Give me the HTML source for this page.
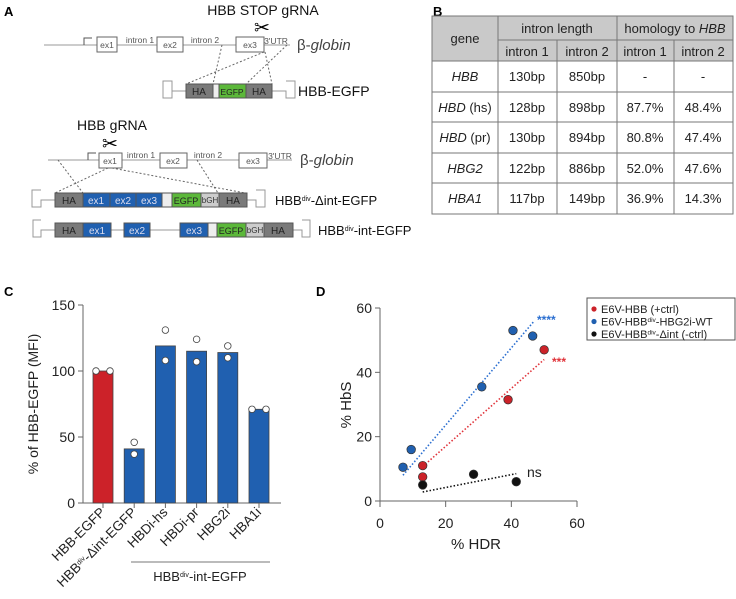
<!DOCTYPE html>
<html><head><meta charset="utf-8"><style>
body{margin:0;background:#fff;}
svg{display:block;font-family:"Liberation Sans","DejaVu Sans",sans-serif;}
.t{font-size:13px;fill:#222;}
.sm{font-size:8.5px;fill:#555;}
</style></head><body>
<svg id="fig" width="736" height="599" viewBox="0 0 736 599">
<text x="4" y="16" font-size="13" font-weight="bold">A</text>
<text x="433" y="16" font-size="13" font-weight="bold">B</text>
<text x="4" y="296" font-size="13" font-weight="bold">C</text>
<text x="316" y="296" font-size="13" font-weight="bold">D</text>

<g stroke-width="1">
 <text x="263" y="15" text-anchor="middle" font-size="14" fill="#111">HBB STOP gRNA</text>
 <text x="262" y="34" text-anchor="middle" font-size="19" font-weight="bold">✂</text>
 <line x1="44" y1="45" x2="290" y2="45" stroke="#999"/>
 <polyline points="84,45 84,38 92,38" fill="none" stroke="#555"/>
 <rect x="97" y="37" width="20" height="15" fill="#fff" stroke="#666"/><text x="107" y="48" text-anchor="middle" class="sm" font-size="9">ex1</text>
 <rect x="157" y="37" width="26" height="15" fill="#fff" stroke="#666"/><text x="170" y="48" text-anchor="middle" class="sm" font-size="9">ex2</text>
 <rect x="236" y="37" width="28" height="15" fill="#fff" stroke="#666"/><text x="250" y="48" text-anchor="middle" class="sm" font-size="9">ex3</text>
 <text x="140" y="43" text-anchor="middle" class="sm" font-size="9">intron 1</text>
 <text x="205" y="43" text-anchor="middle" class="sm" font-size="9">intron 2</text>
 <text x="276" y="44" text-anchor="middle" class="sm" font-size="6.5">3'UTR</text>
 <text x="297" y="50" font-size="15" fill="#444">β-<tspan font-style="italic">globin</tspan></text>
 <g stroke="#666" stroke-dasharray="2,2">
  <line x1="222" y1="45" x2="213" y2="84"/><line x1="264" y1="52" x2="186" y2="84"/>
  <line x1="287" y1="45" x2="246" y2="84"/><line x1="265" y1="52" x2="272" y2="84"/>
 </g>
 <polyline points="186,91 172,91 172,98 163,98 163,81 172,81 172,91" fill="none" stroke="#999"/>
 <polyline points="272,91 286,91 286,98 295,98 295,81 286,81" fill="none" stroke="#999"/>
 <rect x="186" y="84" width="27" height="14" fill="#7a7a7a" stroke="#555"/><text x="199" y="95" text-anchor="middle" font-size="10" fill="#222">HA</text>
 <rect x="213" y="84" width="6" height="14" fill="#eee" stroke="#555"/>
 <rect x="219" y="84" width="27" height="14" fill="#5cb83a" stroke="#555"/><text x="232" y="95" text-anchor="middle" font-size="8.5" fill="#222">EGFP</text>
 <rect x="246" y="84" width="26" height="14" fill="#7a7a7a" stroke="#555"/><text x="259" y="95" text-anchor="middle" font-size="10" fill="#222">HA</text>
 <text x="298" y="96" font-size="14" fill="#111">HBB-EGFP</text>

 <text x="112" y="130" text-anchor="middle" font-size="14" fill="#111">HBB gRNA</text>
 <text x="110" y="150" text-anchor="middle" font-size="19" font-weight="bold">✂</text>
 <line x1="48" y1="160" x2="292" y2="160" stroke="#999"/>
 <polyline points="88,160 88,153 96,153" fill="none" stroke="#555"/>
 <rect x="99" y="153" width="23" height="15" fill="#fff" stroke="#666"/><text x="110" y="164" text-anchor="middle" class="sm" font-size="9">ex1</text>
 <rect x="160" y="153" width="27" height="15" fill="#fff" stroke="#666"/><text x="173" y="164" text-anchor="middle" class="sm" font-size="9">ex2</text>
 <rect x="239" y="153" width="28" height="15" fill="#fff" stroke="#666"/><text x="253" y="164" text-anchor="middle" class="sm" font-size="9">ex3</text>
 <text x="141" y="158" text-anchor="middle" class="sm" font-size="9">intron 1</text>
 <text x="208" y="158" text-anchor="middle" class="sm" font-size="9">intron 2</text>
 <text x="280" y="159" text-anchor="middle" class="sm" font-size="6.5">3'UTR</text>
 <text x="300" y="165" font-size="15" fill="#444">β-<tspan font-style="italic">globin</tspan></text>
 <g stroke="#666" stroke-dasharray="2,2">
  <line x1="58" y1="160" x2="83" y2="193"/><line x1="108" y1="168" x2="55" y2="193"/>
  <line x1="112" y1="168" x2="245" y2="193"/><line x1="197" y1="160" x2="218" y2="193"/>
 </g>
 <polyline points="55,200 41,200 41,207 32,207 32,190 41,190" fill="none" stroke="#999"/>
 <polyline points="247,200 256,200 256,207 265,207 265,190 256,190" fill="none" stroke="#999"/>
 <rect x="55" y="193" width="28" height="14" fill="#7a7a7a" stroke="#555"/><text x="69" y="204" text-anchor="middle" font-size="10" fill="#222">HA</text>
 <rect x="83" y="193" width="27" height="14" fill="#2060b0" stroke="#555"/><text x="96" y="204" text-anchor="middle" font-size="10" fill="#dde">ex1</text>
 <rect x="110" y="193" width="26" height="14" fill="#2060b0" stroke="#555"/><text x="123" y="204" text-anchor="middle" font-size="10" fill="#dde">ex2</text>
 <rect x="136" y="193" width="26" height="14" fill="#2060b0" stroke="#555"/><text x="149" y="204" text-anchor="middle" font-size="10" fill="#dde">ex3</text>
 <rect x="162" y="193" width="10" height="14" fill="#eee" stroke="#555"/>
 <rect x="172" y="193" width="29" height="14" fill="#5cb83a" stroke="#555"/><text x="186" y="204" text-anchor="middle" font-size="9" fill="#222">EGFP</text>
 <rect x="201" y="193" width="18" height="14" fill="#ccc" stroke="#555"/><text x="210" y="203" text-anchor="middle" font-size="8" fill="#333">bGH</text>
 <rect x="219" y="193" width="28" height="14" fill="#7a7a7a" stroke="#555"/><text x="233" y="204" text-anchor="middle" font-size="10" fill="#222">HA</text>
 <text x="275" y="205" font-size="13" fill="#111">HBB<tspan font-size="7" dy="-4">div</tspan><tspan dy="4">-Δint-EGFP</tspan></text>

 <polyline points="55,230 41,230 41,237 33,237 33,220 41,220" fill="none" stroke="#999"/>
 <polyline points="293,230 302,230 302,237 310,237 310,220 302,220" fill="none" stroke="#999"/>
 <line x1="111" y1="230" x2="180" y2="230" stroke="#999"/>
 <rect x="55" y="223" width="28" height="14" fill="#7a7a7a" stroke="#555"/><text x="69" y="234" text-anchor="middle" font-size="10" fill="#222">HA</text>
 <rect x="83" y="223" width="28" height="14" fill="#2060b0" stroke="#555"/><text x="97" y="234" text-anchor="middle" font-size="10" fill="#dde">ex1</text>
 <rect x="124" y="223" width="26" height="14" fill="#2060b0" stroke="#555"/><text x="137" y="234" text-anchor="middle" font-size="10" fill="#dde">ex2</text>
 <rect x="180" y="223" width="28" height="14" fill="#2060b0" stroke="#555"/><text x="194" y="234" text-anchor="middle" font-size="10" fill="#dde">ex3</text>
 <rect x="208" y="223" width="9" height="14" fill="#eee" stroke="#555"/>
 <rect x="217" y="223" width="29" height="14" fill="#5cb83a" stroke="#555"/><text x="231" y="234" text-anchor="middle" font-size="9" fill="#222">EGFP</text>
 <rect x="246" y="223" width="18" height="14" fill="#ccc" stroke="#555"/><text x="255" y="233" text-anchor="middle" font-size="8" fill="#333">bGH</text>
 <rect x="264" y="223" width="29" height="14" fill="#7a7a7a" stroke="#555"/><text x="278" y="234" text-anchor="middle" font-size="10" fill="#222">HA</text>
 <text x="318" y="235" font-size="13" fill="#111">HBB<tspan font-size="7" dy="-4">div</tspan><tspan dy="4">-int-EGFP</tspan></text>
</g>

<g font-size="13" fill="#222">
 <rect x="432" y="16" width="301" height="45" fill="#c9c9c9"/>
 <rect x="432" y="16" width="301" height="198" fill="none" stroke="#777"/>
 <g stroke="#777">
  <line x1="498" y1="16" x2="498" y2="214"/><line x1="617" y1="16" x2="617" y2="214"/>
  <line x1="557" y1="40" x2="557" y2="214"/><line x1="674" y1="40" x2="674" y2="214"/>
  <line x1="498" y1="40" x2="733" y2="40"/>
  <line x1="432" y1="61" x2="733" y2="61"/><line x1="432" y1="92" x2="733" y2="92"/>
  <line x1="432" y1="122" x2="733" y2="122"/><line x1="432" y1="153" x2="733" y2="153"/>
  <line x1="432" y1="183" x2="733" y2="183"/>
 </g>
 <g text-anchor="middle">
  <text x="465" y="43">gene</text>
  <text x="557" y="33">intron length</text>
  <text x="675" y="33">homology to <tspan font-style="italic">HBB</tspan></text>
  <text x="527" y="56">intron 1</text><text x="587" y="56">intron 2</text>
  <text x="645" y="56">intron 1</text><text x="703" y="56">intron 2</text>
  <text x="465" y="81" font-style="italic">HBB</text><text x="527" y="81">130bp</text><text x="587" y="81">850bp</text><text x="645" y="81">-</text><text x="703" y="81">-</text>
  <text x="465" y="112"><tspan font-style="italic">HBD</tspan> (hs)</text><text x="527" y="112">128bp</text><text x="587" y="112">898bp</text><text x="645" y="112">87.7%</text><text x="703" y="112">48.4%</text>
  <text x="465" y="142"><tspan font-style="italic">HBD</tspan> (pr)</text><text x="527" y="142">130bp</text><text x="587" y="142">894bp</text><text x="645" y="142">80.8%</text><text x="703" y="142">47.4%</text>
  <text x="465" y="173" font-style="italic">HBG2</text><text x="527" y="173">122bp</text><text x="587" y="173">886bp</text><text x="645" y="173">52.0%</text><text x="703" y="173">47.6%</text>
  <text x="465" y="203" font-style="italic">HBA1</text><text x="527" y="203">117bp</text><text x="587" y="203">149bp</text><text x="645" y="203">36.9%</text><text x="703" y="203">14.3%</text>
 </g>
</g>

<g id="chartC"></g>
<g id="chartD"></g>
</svg>
<script>
const barCategories = ["HBB-EGFP","HBBdiv-Δint-EGFP","HBDi-hs","HBDi-pr","HBG2i","HBA1i"];
const barValues = [100,41,119,115,114,71];
const barPoint1 = [100,46,131,124,119,71];
const barPoint2 = [100,37,108,107,110,71];
const barYTicks = [0,50,100,150];

const redX = [13,13,39,50];
const redY = [11,7.5,31.5,47];
const blueX = [7,9.5,31,40.5,46.5];
const blueY = [10.5,16,35.5,53,51.3];
const blackX = [13,28.5,41.5];
const blackY = [5,8.3,6];
const scatterTicks = [0,20,40,60];
// trendline slope / intercept / x-range: [blue, red, black]
const trendSlope = [1.2, 0.9, 0.2];
const trendIntercept = [-0.4, -1.0, 0.2];
const trendXStart = [7, 13, 13];
const trendXEnd = [47, 50, 41.5];

const NS='http://www.w3.org/2000/svg';
function mk(parent,tag,attrs,text){const e=document.createElementNS(NS,tag);for(const k in attrs)e.setAttribute(k,attrs[k]);if(text!==undefined)e.textContent=text;parent.appendChild(e);return e;}

const gC=document.getElementById('chartC');
const cy=v=>503-(v/150)*198;
const cx=i=>103+i*31.2;
mk(gC,'line',{x1:83,y1:305,x2:83,y2:503,stroke:'#666'});
mk(gC,'line',{x1:83,y1:503,x2:281,y2:503,stroke:'#666'});
barYTicks.forEach(t=>{
 const tl=mk(gC,'line',{x1:78,y1:cy(t),x2:83,y2:cy(t),stroke:'#666'});
 
 
 const tx=mk(gC,'text',{x:75,y:cy(t)+5,'text-anchor':'end','font-size':14,fill:'#222'},t);
 
 
});
barValues.forEach((v,i)=>{
 const r=mk(gC,'rect',{x:cx(i)-10,y:cy(v),width:20,height:503-cy(v),fill:i===0?'#cc2229':'#2060b0',stroke:'#444','stroke-width':0.8});
 
 
 mk(gC,'line',{x1:cx(i),y1:503,x2:cx(i),y2:508,stroke:'#666'});
 [barPoint1[i],barPoint2[i]].forEach((p,j)=>{
  const off=(barPoint1[i]===barPoint2[i])?(j?7:-7):0;
  const c=mk(gC,'circle',{cx:cx(i)+off,cy:cy(p),r:3.3,fill:'#fff',stroke:'#444','stroke-width':0.8});
  
  
 });
 const lx=cx(i)+3, ly=513;
 const lab=mk(gC,'text',{x:lx,y:ly,'text-anchor':'end','font-size':13.5,fill:'#222',transform:`rotate(-45 ${lx} ${ly})`});
 
 
 const name=barCategories[i];
 if(name.indexOf('div')>0){
  mk(lab,'tspan',{},'HBB');mk(lab,'tspan',{'font-size':7,dy:-4},'div');mk(lab,'tspan',{dy:4},'-Δint-EGFP');
 } else lab.textContent=name;
});
mk(gC,'line',{x1:131,y1:562,x2:270,y2:562,stroke:'#777'});
const grp=mk(gC,'text',{x:200,y:581,'text-anchor':'middle','font-size':13,fill:'#222'});


mk(grp,'tspan',{},'HBB');mk(grp,'tspan',{'font-size':7,dy:-4},'div');mk(grp,'tspan',{dy:4},'-int-EGFP');
const ytC=mk(gC,'text',{x:38,y:404,'text-anchor':'middle','font-size':14,fill:'#222',transform:'rotate(-90 38 404)'},'% of HBB-EGFP (MFI)');



const gD=document.getElementById('chartD');
const dx=v=>380+v*(197/60);
const dy=v=>501-v*(193/60);
mk(gD,'line',{x1:380,y1:308,x2:380,y2:501,stroke:'#666'});
mk(gD,'line',{x1:380,y1:501,x2:577,y2:501,stroke:'#666'});
scatterTicks.forEach(t=>{
 mk(gD,'line',{x1:375,y1:dy(t),x2:380,y2:dy(t),stroke:'#666'});
 const a=mk(gD,'text',{x:372,y:dy(t)+5,'text-anchor':'end','font-size':14,fill:'#222'},t);
 
 
 mk(gD,'line',{x1:dx(t),y1:501,x2:dx(t),y2:507,stroke:'#666'});
 const b=mk(gD,'text',{x:dx(t),y:528,'text-anchor':'middle','font-size':14,fill:'#222'},t);
 
 
});
const xtD=mk(gD,'text',{x:476,y:549,'text-anchor':'middle','font-size':15,fill:'#222'},'% HDR');


const ytD=mk(gD,'text',{x:351,y:405,'text-anchor':'middle','font-size':15,fill:'#222',transform:'rotate(-90 351 405)'},'% HbS');


const series=[[blueX,blueY,'#2a6ed0','#2060b0','blue'],[redX,redY,'#e0333a','#cc2229','red'],[blackX,blackY,'#111','#111','black']];
series.forEach(([xs,ys,lc,fc,nm],k)=>{
 const m=trendSlope[k],b=trendIntercept[k],x0=trendXStart[k],x1=trendXEnd[k];
 const l=mk(gD,'line',{x1:dx(x0),y1:dy(m*x0+b),x2:dx(x1),y2:dy(m*x1+b),stroke:lc,'stroke-width':1.6,'stroke-dasharray':'1.5,2'});
 
 
});
series.forEach(([xs,ys,lc,fc,nm])=>{
 xs.forEach((x,i)=>{
  const c=mk(gD,'circle',{cx:dx(x),cy:dy(ys[i]),r:4.3,fill:fc,stroke:'#333','stroke-width':0.7});
  
  
 });
});
const s1=mk(gD,'text',{x:537,y:324,'font-size':12,fill:'#2a6ed0','font-weight':'bold'},'****');


const s2=mk(gD,'text',{x:552,y:366,'font-size':12,fill:'#e0333a','font-weight':'bold'},'***');


const s3=mk(gD,'text',{x:527,y:477,'font-size':14,fill:'#222'},'ns');


const lg=mk(gD,'g',{});


mk(lg,'rect',{x:587,y:298,width:148,height:42,fill:'#fff',stroke:'#555'});
const legs=[['#cc2229',['E6V-HBB (+ctrl)']],['#2060b0',['E6V-HBB','div','-HBG2i-WT']],['#111',['E6V-HBB','div','-Δint (-ctrl)']]];
legs.forEach(([c,parts],i)=>{
 const y=309+i*12.5;
 mk(lg,'circle',{cx:594,cy:y,r:2.6,fill:c});
 const t=mk(lg,'text',{x:601,y:y+4,'font-size':11,fill:'#222'});
 
 
 mk(t,'tspan',{},parts[0]);
 if(parts.length>1){mk(t,'tspan',{'font-size':6.5,dy:-3.5},parts[1]);mk(t,'tspan',{dy:3.5},parts[2]);}
});
</script>
</body></html>
